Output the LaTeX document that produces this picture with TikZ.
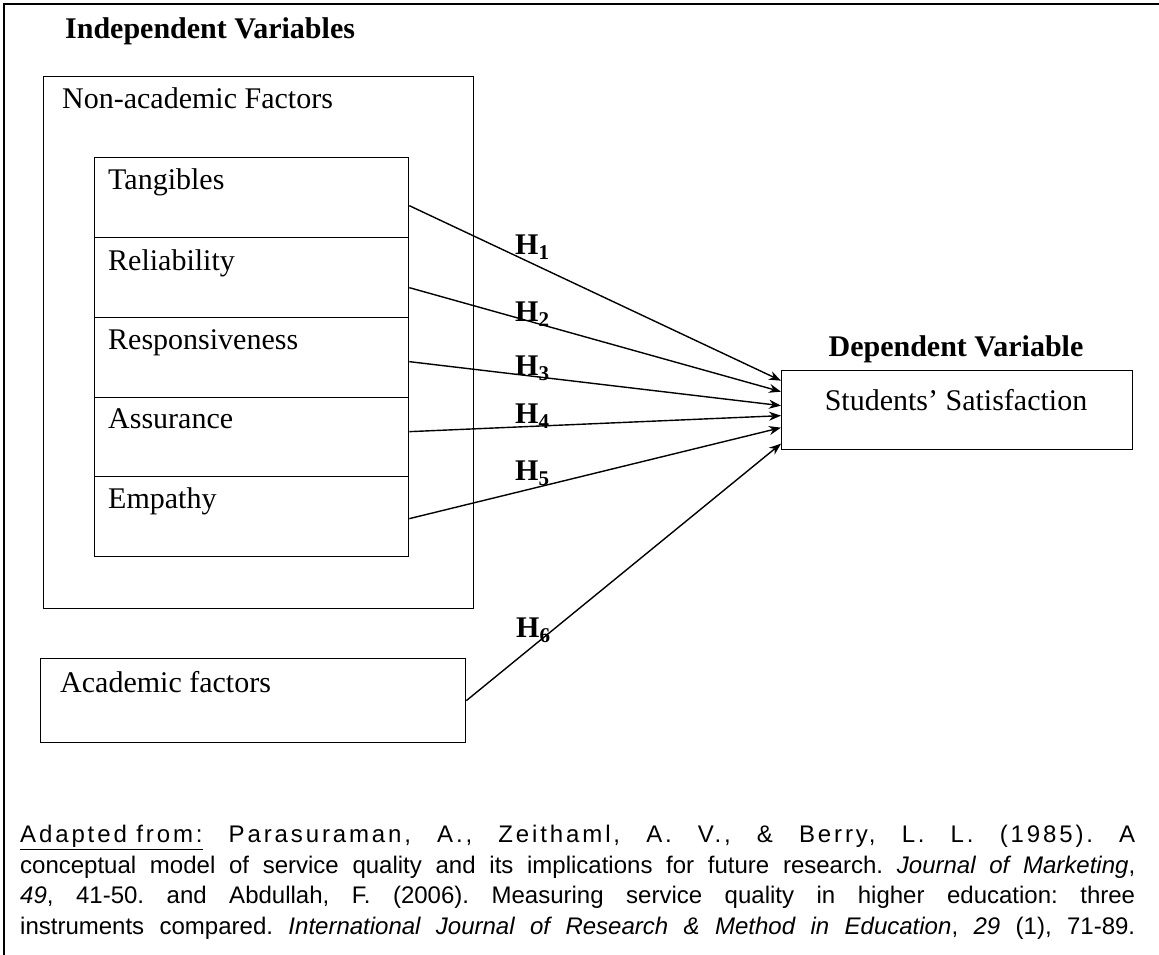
\documentclass[tikz,border=0pt]{standalone}
\usepackage{fontspec}
\setmainfont{Liberation Serif}
\newfontfamily\citefont{Liberation Sans}
\usetikzlibrary{arrows.meta}
\begin{document}
\frenchspacing
\begin{tikzpicture}[x=1pt,y=-1pt,
  box/.style={draw, line width=1.3pt, rectangle, anchor=north west, inner sep=0pt},
  lbl/.style={anchor=base west, inner sep=0pt, font=\fontsize{30}{36}\selectfont},
  ctr/.style={anchor=base, inner sep=0pt, font=\fontsize{30}{36}\selectfont},
  head/.style={inner sep=0pt, font=\fontsize{30}{36}\selectfont\bfseries},
  hyp/.style={line width=1.4pt, -{Stealth[length=12pt,width=9pt]}},
  hlabel/.style={anchor=base west, inner sep=0pt, font=\fontsize{30}{36}\selectfont\bfseries}]

\useasboundingbox (0,0) rectangle (1159,955);

% page frame (top and left rules)
\draw[line width=2pt] (1159,4) -- (4,4) -- (4,955);

% independent variables
\node[head, anchor=base west] (indep) at (65,39) {Independent Variables};

\node[box, minimum width=430pt, minimum height=532pt] (nonacad) at (43,76) {};
\node[lbl] (nonacadtxt) at (62,109) {Non-academic Factors};

\node[box, minimum width=314pt, minimum height=80pt] (tang) at (94,157) {};
\node[box, minimum width=314pt, minimum height=80pt] (reli) at (94,237) {};
\node[box, minimum width=314pt, minimum height=80pt] (resp) at (94,317) {};
\node[box, minimum width=314pt, minimum height=79pt] (assu) at (94,397) {};
\node[box, minimum width=314pt, minimum height=80pt] (empa) at (94,476) {};

\node[lbl] (tangtxt) at (108,189) {Tangibles};
\node[lbl] (relitxt) at (108,270) {Reliability};
\node[lbl] (resptxt) at (108,349) {Responsiveness};
\node[lbl] (assutxt) at (108,428) {Assurance};
\node[lbl] (empatxt) at (108,508) {Empathy};

\node[box, minimum width=425pt, minimum height=84pt] (acad) at (40,658) {};
\node[lbl] (acadtxt) at (60,692) {Academic factors};

% dependent variable
\node[box, minimum width=351pt, minimum height=79pt] (sat) at (781,370) {};
\node[ctr] (sattxt) at (956,410) {Students’ Satisfaction};
\node[head, anchor=base] (dep) at (956,356) {Dependent Variable};

% hypotheses
\draw[hyp] ([yshift=-8pt]tang.east) -- ([yshift=29.5pt]sat.west);
\draw[hyp] ([yshift=-10pt]reli.east) -- ([yshift=18.5pt]sat.west);
\draw[hyp] ([yshift=-4pt]resp.east) -- ([yshift=4.5pt]sat.west);
\draw[hyp] ([yshift=5.5pt]assu.east) -- ([yshift=-5.5pt]sat.west);
\draw[hyp] ([yshift=-2pt]empa.east) -- ([yshift=-17.5pt]sat.west);
\draw[hyp] (acad.east) -- ([yshift=-33.5pt]sat.west);

\node[hlabel] (h1) at (515,254) {H\textsubscript{1}};
\node[hlabel] (h2) at (515,321) {H\textsubscript{2}};
\node[hlabel] (h3) at (515,375) {H\textsubscript{3}};
\node[hlabel] (h4) at (515,423) {H\textsubscript{4}};
\node[hlabel] (h5) at (515,480) {H\textsubscript{5}};
\node[hlabel] (h6) at (516,637) {H\textsubscript{6}};

% source note
\node[anchor=north west, inner sep=0pt, align=left,
      font=\citefont\fontsize{24}{30.5}\selectfont] (cite) at (20,825)
 {\makebox[1115pt][s]{\addfontfeature{LetterSpace=12}\underline{Adapted from:} Parasuraman, A., Zeithaml, A. V., \& Berry, L. L. (1985). A}\\
  \makebox[1115pt][s]{conceptual model of service quality and its implications for future research. \textit{Journal of Marketing},}\\
  \makebox[1115pt][s]{\textit{49}, 41-50. and Abdullah, F. (2006). Measuring service quality in higher education: three}\\
  \makebox[1115pt][s]{instruments compared. \textit{International Journal of Research \& Method in Education}, \textit{29} (1), 71-89.}};
\end{tikzpicture}
\end{document}
